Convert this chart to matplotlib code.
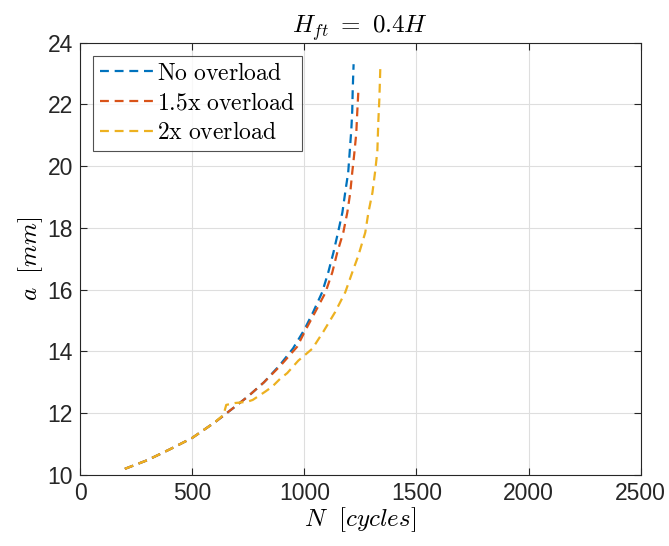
import matplotlib
matplotlib.use("Agg")
import matplotlib.pyplot as plt

plt.rcParams['mathtext.fontset'] = 'cm'
plt.rcParams['font.family'] = ['Liberation Sans', 'DejaVu Sans']

# Crack growth curves: crack length a [mm] vs. number of cycles N
n_none = [200, 300, 400, 500, 600, 680, 750, 820, 890, 950, 1000, 1040, 1080,
          1107, 1130, 1152, 1170, 1183, 1196, 1203, 1210, 1214, 1216, 1220]
a_none = [10.2, 10.48, 10.83, 11.2, 11.7, 12.15, 12.55, 13.0, 13.55, 14.1, 14.7,
          15.28, 15.92, 16.56, 17.2, 17.9, 18.5, 19.17, 19.8, 20.5, 21.2, 21.8,
          22.45, 23.3]

n_15x = [200, 300, 400, 500, 600, 680, 750, 820, 895, 968, 1004, 1049, 1094,
         1125, 1147, 1174, 1192, 1205, 1214, 1223, 1232, 1236, 1241]
a_15x = [10.2, 10.48, 10.83, 11.2, 11.7, 12.15, 12.55, 13.0, 13.55, 14.15, 14.67,
         15.28, 15.9, 16.56, 17.2, 17.85, 18.5, 19.14, 19.8, 20.4, 21.07, 21.7, 22.4]

n_2x = [200, 300, 400, 500, 600, 640, 652, 690, 745, 770, 826, 857, 893, 924,
        973, 1036, 1085, 1138, 1183, 1214, 1241, 1272, 1286, 1304, 1317, 1326,
        1330, 1335, 1339]
a_2x = [10.2, 10.48, 10.83, 11.2, 11.7, 11.95, 12.27, 12.33, 12.37, 12.43, 12.7,
        12.86, 13.12, 13.3, 13.7, 14.09, 14.64, 15.28, 15.92, 16.56, 17.1, 17.85,
        18.5, 19.14, 19.88, 20.5, 21.4, 22.2, 23.15]

labels = ['No overload', '1.5x overload', '2x overload']
colors = ['#0072BD', '#D95319', '#EDB120']

x_ticks = [0, 500, 1000, 1500, 2000, 2500]
y_ticks = [10, 12, 14, 16, 18, 20, 22, 24]

fig = plt.figure(figsize=(6.69, 5.46), dpi=100)
ax = fig.add_axes([0.1196, 0.130, 0.838, 0.792])

for n, a, lab, c in zip([n_none, n_15x, n_2x], [a_none, a_15x, a_2x], labels, colors):
    ax.plot(n, a, color=c, lw=1.6, linestyle=(0, (4, 2.6)),
            label=r'$\mathrm{' + lab.replace(' ', r'\ ') + '}$')

ax.set_xlim(0, 2500)
ax.set_ylim(10, 24)
ax.set_xticks(x_ticks)
ax.set_yticks(y_ticks)

edge = '#262626'
for s in ax.spines.values():
    s.set_color(edge)
    s.set_linewidth(0.8)
ax.tick_params(direction='in', top=True, right=True, length=5, width=0.8,
               colors=edge, labelsize=16.5, labelcolor='#262626', pad=5)
ax.grid(True, color='#dedede', linewidth=0.8)
ax.set_axisbelow(True)

ax.set_title(r'$H_{ft}\ =\ 0.4H$', fontsize=18, pad=7)
ax.set_xlabel(r'$N\ \ [cycles]$', fontsize=18, labelpad=0)
ax.set_ylabel(r'$a\ \ [mm]$', fontsize=18, labelpad=2)

leg = ax.legend(loc='upper left', fontsize=17, frameon=True, fancybox=False,
                edgecolor='#262626', handlelength=2.3, handletextpad=0.12,
                borderpad=0.3, labelspacing=0.33, borderaxespad=0.55)
leg.get_frame().set_linewidth(0.8)

fig.savefig('out.png', dpi=100)
